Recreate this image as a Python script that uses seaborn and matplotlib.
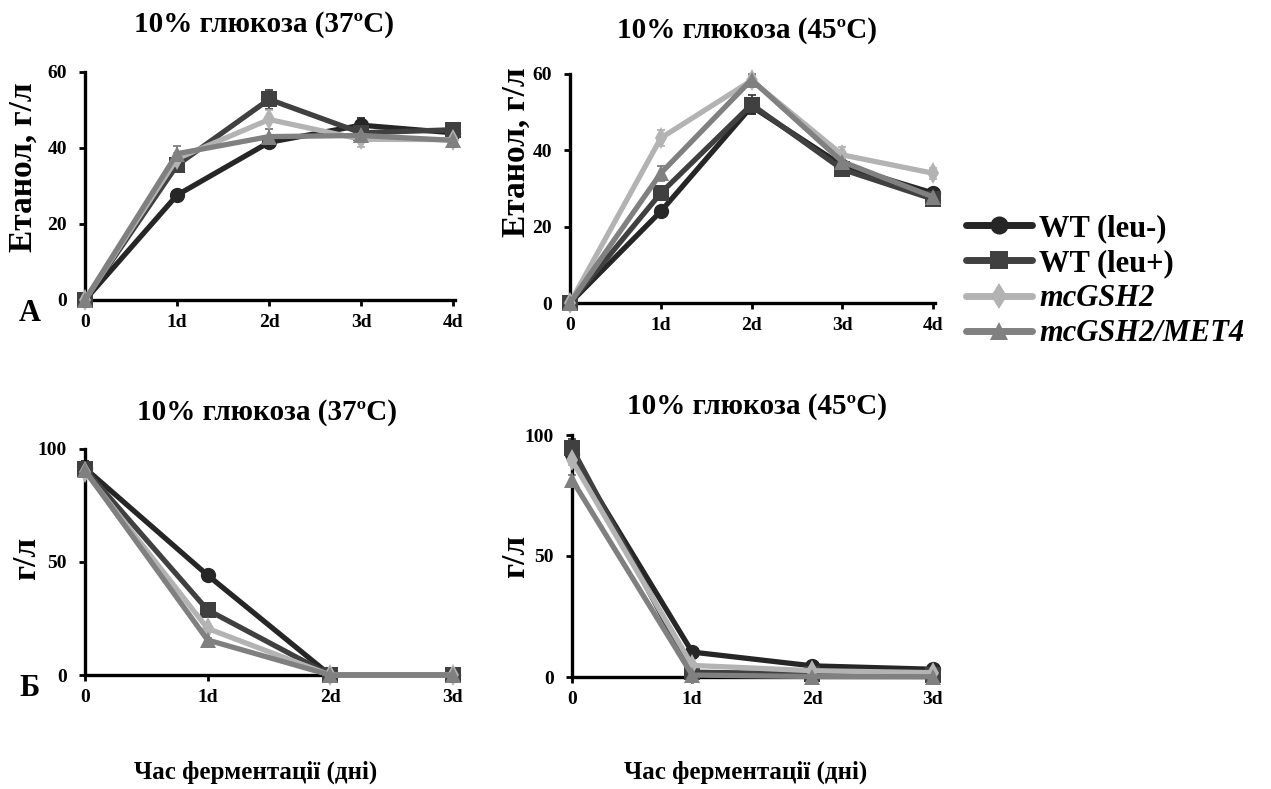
import numpy as np
import pandas as pd
import matplotlib
matplotlib.use("Agg")
import matplotlib.pyplot as plt
from matplotlib.lines import Line2D
import seaborn as sns

sns.set_theme(style="ticks")
plt.rcParams['font.family'] = ['Liberation Serif', 'DejaVu Serif']
plt.rcParams['font.weight'] = 'bold'
plt.rcParams['text.color'] = 'black'
plt.rcParams['axes.labelcolor'] = 'black'
plt.rcParams['xtick.color'] = 'black'
plt.rcParams['ytick.color'] = 'black'

strains = ["WT (leu-)", "WT (leu+)", "mcGSH2", "mcGSH2/MET4"]
colors = ["#262626", "#404040", "#b3b3b3", "#808080"]
markers = ["o", "s", "d", "^"]

days5 = [0, 1, 2, 3, 4]
days4 = [0, 1, 2, 3]
xt5 = ["0", "1d", "2d", "3d", "4d"]
xt4 = ["0", "1d", "2d", "3d"]

# Ethanol, 37C
eth37 = {
    "WT (leu-)":   [0, 27.6, 41.5, 46.0, 44.0],
    "WT (leu+)":   [0, 35.5, 52.8, 44.0, 44.8],
    "mcGSH2":      [0, 37.2, 47.5, 42.3, 42.2],
    "mcGSH2/MET4": [0, 38.5, 43.0, 43.3, 42.0],
}
eth37_err = {
    "WT (leu-)":   [0, 1.0, 1.5, 2.0, 1.0],
    "WT (leu+)":   [0, 1.5, 2.5, 1.5, 1.0],
    "mcGSH2":      [0, 1.5, 2.5, 2.0, 1.0],
    "mcGSH2/MET4": [0, 2.0, 2.0, 1.5, 1.5],
}
# Ethanol, 45C
eth45 = {
    "WT (leu-)":   [0, 24.0, 51.5, 36.0, 28.8],
    "WT (leu+)":   [0, 28.8, 52.0, 35.0, 27.2],
    "mcGSH2":      [0, 43.2, 58.3, 38.8, 34.0],
    "mcGSH2/MET4": [0, 34.0, 58.5, 37.0, 27.8],
}
eth45_err = {
    "WT (leu-)":   [0, 1.0, 2.0, 1.5, 1.0],
    "WT (leu+)":   [0, 1.5, 2.5, 1.5, 1.0],
    "mcGSH2":      [0, 2.0, 1.5, 2.0, 1.5],
    "mcGSH2/MET4": [0, 2.0, 1.5, 1.5, 1.0],
}
# Glucose, 37C
glu37 = {
    "WT (leu-)":   [91.5, 44.2, 0, 0],
    "WT (leu+)":   [91.0, 28.8, 0, 0],
    "mcGSH2":      [90.0, 20.6, 0, 0],
    "mcGSH2/MET4": [90.5, 15.5, 0, 0],
}
glu37_err = {
    "WT (leu-)":   [3.0, 1.0, 0, 0],
    "WT (leu+)":   [3.0, 1.0, 0, 0],
    "mcGSH2":      [2.0, 1.0, 0, 0],
    "mcGSH2/MET4": [2.0, 1.0, 0, 0],
}
# Glucose, 45C
glu45 = {
    "WT (leu-)":   [92.0, 10.3, 4.6, 3.2],
    "WT (leu+)":   [94.5, 2.0, 1.3, 0.8],
    "mcGSH2":      [89.5, 4.8, 2.6, 1.8],
    "mcGSH2/MET4": [81.5, 0.8, 0.2, 0.1],
}
glu45_err = {
    "WT (leu-)":   [3.0, 1.0, 0.5, 0.5],
    "WT (leu+)":   [4.0, 0.5, 0.5, 0.5],
    "mcGSH2":      [2.0, 0.5, 0.5, 0.5],
    "mcGSH2/MET4": [2.0, 0.5, 0.5, 0.5],
}

W, H = 1271, 789
fig = plt.figure(figsize=(W / 100, H / 100), dpi=100)


def px_axes(left, top, right, bottom):
    return fig.add_axes([left / W, 1 - bottom / H, (right - left) / W, (bottom - top) / H])


pal = dict(zip(strains, colors))
mk = dict(zip(strains, markers))


def draw(ax, days, data, err, ticks, ylim, yticks):
    rows = []
    for s in strains:
        for d, v in zip(days, data[s]):
            rows.append({"day": d, "value": v, "strain": s})
    df = pd.DataFrame(rows)
    for s in strains:
        ax.errorbar(days, data[s], yerr=err[s], fmt="none", ecolor=pal[s],
                    elinewidth=1.3, capsize=3, capthick=1.3, clip_on=False, zorder=2)
    sns.lineplot(data=df, x="day", y="value", hue="strain", style="strain",
                 hue_order=strains, style_order=strains, palette=pal,
                 markers=mk, dashes=False, linewidth=3.8, markersize=11,
                 markeredgewidth=0, legend=False, ax=ax, clip_on=False, zorder=3)
    ax.set_xlim(0, days[-1] + 0.02)
    ax.set_ylim(*ylim)
    ax.set_xticks(days)
    ax.set_xticklabels(ticks)
    ax.set_yticks(yticks)
    ax.set_xlabel("")
    ax.set_ylabel("")
    for sp in ["top", "right"]:
        ax.spines[sp].set_visible(False)
    for sp in ["left", "bottom"]:
        ax.spines[sp].set_linewidth(2.4)
        ax.spines[sp].set_color("black")
    ax.tick_params(axis="both", direction="out", length=4, width=2,
                   colors="black", labelsize=14)
    ax.tick_params(axis="x", pad=6)
    ax.tick_params(axis="y", pad=9)
    for lab in ax.get_xticklabels() + ax.get_yticklabels():
        lab.set_fontweight("bold")
    ax.patch.set_alpha(0)


ax1 = px_axes(85, 72, 455, 300)
draw(ax1, days5, eth37, eth37_err, xt5, (0, 60), [0, 20, 40, 60])
ax2 = px_axes(570, 74, 935, 303)
draw(ax2, days5, eth45, eth45_err, xt5, (0, 60), [0, 20, 40, 60])
ax3 = px_axes(85, 449, 455, 675)
draw(ax3, days4, glu37, glu37_err, xt4, (0, 100), [0, 50, 100])
ax4 = px_axes(572, 435, 935, 677)
draw(ax4, days4, glu45, glu45_err, xt4, (0, 100), [0, 50, 100])

tkw = dict(fontsize=21, fontweight="bold", ha="center", va="center")
fig.text(264 / W, 1 - 25 / H, "10% глюкоза (37ºC)", **tkw)
fig.text(747 / W, 1 - 30 / H, "10% глюкоза (45ºC)", **tkw)
fig.text(267 / W, 1 - 413 / H, "10% глюкоза (37ºC)", **tkw)
fig.text(757 / W, 1 - 406 / H, "10% глюкоза (45ºC)", **tkw)

ykw = dict(fontsize=24, fontweight="bold", ha="center", va="center", rotation=90)
fig.text(23 / W, 1 - 167 / H, "Етанол, г/л", **ykw)
fig.text(516 / W, 1 - 152 / H, "Етанол, г/л", **ykw)
fig.text(27 / W, 1 - 558 / H, "г/л", **ykw)
fig.text(516 / W, 1 - 556 / H, "г/л", **ykw)

fig.text(30 / W, 1 - 314 / H, "А", fontsize=22, fontweight="bold", ha="center", va="center")
fig.text(30 / W, 1 - 688 / H, "Б", fontsize=22, fontweight="bold", ha="center", va="center")

xkw = dict(fontsize=18, fontweight="bold", ha="center", va="center")
fig.text(256 / W, 1 - 772 / H, "Час ферментації (дні)", **xkw)
fig.text(746 / W, 1 - 772 / H, "Час ферментації (дні)", **xkw)

handles = [Line2D([0], [0], color=c, marker=m, lw=5, markersize=13, markeredgewidth=0)
           for c, m in zip(colors, markers)]
leg = fig.legend(handles, strains, loc="upper left",
                 bbox_to_anchor=(966 / W, 1 - 214 / H), frameon=False,
                 fontsize=22, handlelength=2.15, handletextpad=0.25, labelspacing=0.2,
                 borderaxespad=0, borderpad=0)
for i, t in enumerate(leg.get_texts()):
    t.set_fontweight("bold")
    t.set_color("black")
    if i >= 2:
        t.set_fontstyle("italic")

fig.savefig("out.png", dpi=100)
